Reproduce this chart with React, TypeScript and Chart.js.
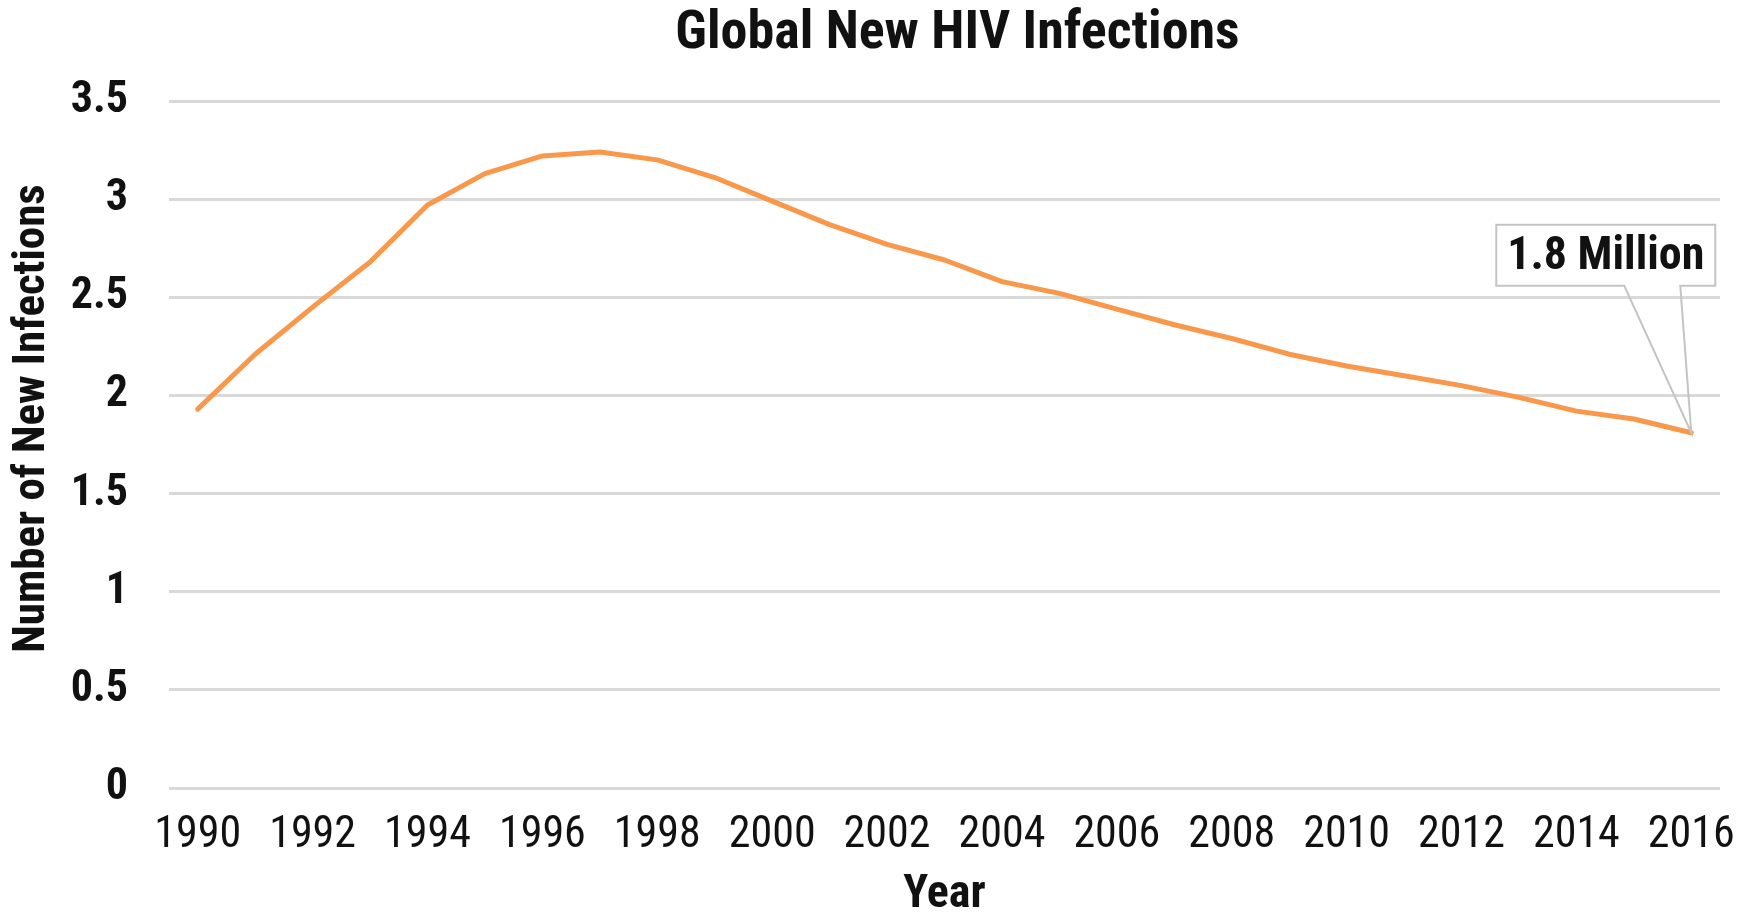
import React, { useEffect, useRef } from "react";
import { Chart, registerables } from "chart.js";

Chart.register(...registerables);

const years = [
  "1990", "1991", "1992", "1993", "1994", "1995", "1996", "1997", "1998", "1999",
  "2000", "2001", "2002", "2003", "2004", "2005", "2006", "2007", "2008", "2009",
  "2010", "2011", "2012", "2013", "2014", "2015", "2016",
];
const newInfections = [
  1.93, 2.21, 2.45, 2.68, 2.97, 3.13, 3.22, 3.24, 3.2, 3.11,
  2.99, 2.87, 2.77, 2.69, 2.58, 2.52, 2.44, 2.36, 2.29, 2.21,
  2.15, 2.1, 2.05, 1.99, 1.92, 1.88, 1.81,
];
const xTickLabels = years.filter((_, i) => i % 2 === 0);
const yTickValues = [0, 0.5, 1, 1.5, 2, 2.5, 3, 3.5];
const yTickLabels = ["0", "0.5", "1", "1.5", "2", "2.5", "3", "3.5"];
const chartTitle = "Global New HIV Infections";
const yAxisTitle = "Number of New Infections";
const xAxisTitle = "Year";
const calloutText = "1.8 Million";

const FONT = '"Roboto Condensed", "DejaVu Sans Condensed", sans-serif';

const titleShiftPlugin = {
  id: "titleShift",
  afterLayout(chart: any) {
    const tb = chart.titleBlock;
    if (tb) {
      tb.left += 13;
      tb.right += 13;
    }
  },
};

const yTitlePlugin = {
  id: "yTitle",
  afterDraw(chart: any) {
    const ctx = chart.ctx;
    const area = chart.chartArea;
    ctx.save();
    ctx.translate(33, (area.top + area.bottom) / 2 - 26);
    ctx.rotate(-Math.PI / 2);
    ctx.fillStyle = "#111111";
    ctx.font = `bold 45px ${FONT}`;
    ctx.textAlign = "center";
    ctx.textBaseline = "middle";
    ctx.fillText(yAxisTitle, 0, 0);
    ctx.restore();
  },
};

const calloutPlugin = {
  id: "callout",
  afterDatasetsDraw(chart: any) {
    const meta = chart.getDatasetMeta(0);
    const pt = meta.data[meta.data.length - 1];
    if (!pt) return;
    const px = pt.x;
    const py = pt.y;
    const ctx = chart.ctx;
    const left = px - 195;
    const right = px + 24;
    const top = py - 208;
    const bottom = py - 147;
    const b1 = px - 67;
    const b2 = px - 11;
    ctx.save();
    ctx.fillStyle = "#ffffff";
    ctx.fillRect(left, top, right - left, bottom - top);
    ctx.beginPath();
    ctx.moveTo(left, top);
    ctx.lineTo(right, top);
    ctx.lineTo(right, bottom);
    ctx.lineTo(b2, bottom);
    ctx.lineTo(px, py);
    ctx.lineTo(b1, bottom);
    ctx.lineTo(left, bottom);
    ctx.closePath();
    ctx.strokeStyle = "#c4c4c4";
    ctx.lineWidth = 2;
    ctx.lineJoin = "miter";
    ctx.stroke();
    ctx.fillStyle = "#111111";
    ctx.font = `bold 46px ${FONT}`;
    ctx.textAlign = "center";
    ctx.textBaseline = "middle";
    ctx.fillText(calloutText, (left + right) / 2, (top + bottom) / 2 + 2);
    ctx.restore();
  },
};

export default function App() {
  const canvasRef = useRef<HTMLCanvasElement | null>(null);

  useEffect(() => {
    const canvas = canvasRef.current;
    if (!canvas) return;
    const chart = new Chart(canvas, {
      type: "line",
      data: {
        labels: years,
        datasets: [
          {
            label: "New HIV infections (millions)",
            data: newInfections,
            borderColor: "#F9984A",
            backgroundColor: "#F9984A",
            borderWidth: 5,
            borderCapStyle: "round",
            borderJoinStyle: "round",
            pointRadius: 0,
            pointHoverRadius: 0,
            tension: 0,
            fill: false,
          },
        ],
      },
      options: {
        responsive: false,
        animation: false,
        devicePixelRatio: 1,
        layout: { padding: { left: 0, right: 24, top: 0, bottom: 0 } },
        plugins: {
          legend: { display: false },
          tooltip: { enabled: false },
          title: {
            display: true,
            text: chartTitle,
            fullSize: false,
            color: "#111111",
            font: { family: FONT, size: 54, weight: "bold", lineHeight: 1.15 },
            padding: { top: 3.6, bottom: 35.3 },
          },
        },
        scales: {
          x: {
            type: "category",
            offset: true,
            grid: { display: false, drawTicks: false },
            border: { display: false },
            ticks: {
              autoSkip: false,
              maxRotation: 0,
              minRotation: 0,
              padding: 0,
              color: "#111111",
              font: { family: FONT, size: 44, weight: "normal", lineHeight: 96 / 44 },
              callback: (_v: any, i: number) => (i % 2 === 0 ? xTickLabels[i / 2] : ""),
            },
            title: {
              display: true,
              text: xAxisTitle,
              color: "#111111",
              font: { family: FONT, size: 46, weight: "bold", lineHeight: 0.76 },
              padding: { top: 0, bottom: 0 },
            },
            afterFit: (scale: any) => {
              scale.height = 125;
            },
          },
          y: {
            min: 0,
            max: 3.5,
            grid: { color: "#d9d9d9", lineWidth: 3, drawTicks: false },
            border: { display: false },
            afterBuildTicks: (scale: any) => {
              scale.ticks = yTickValues.map((v) => ({ value: v }));
            },
            ticks: {
              padding: 41,
              color: "#111111",
              font: { family: FONT, size: 44, weight: "bold", lineHeight: 1.2 },
              callback: (v: any) => {
                const idx = yTickValues.indexOf(Number(v));
                return idx >= 0 ? yTickLabels[idx] : "";
              },
            },
            title: { display: false },
            afterFit: (scale: any) => {
              scale.width = 169;
            },
          },
        },
      },
      plugins: [titleShiftPlugin, calloutPlugin, yTitlePlugin],
    });
    return () => chart.destroy();
  }, []);

  return (
    <div style={{ position: "absolute", left: 0, top: 0, width: 1744, height: 913, background: "#ffffff" }}>
      <canvas ref={canvasRef} width={1744} height={913} style={{ display: "block" }} />
    </div>
  );
}
